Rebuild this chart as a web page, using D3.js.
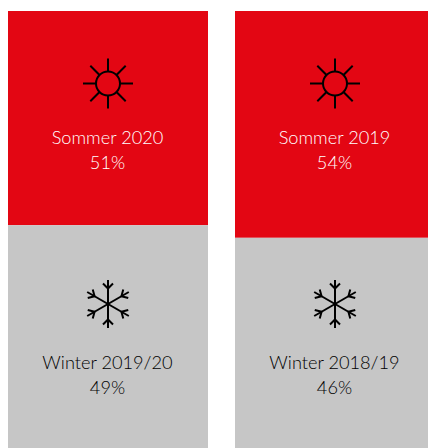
<!DOCTYPE html>
<html>
<head>
<meta charset="utf-8">
<script src="https://cdn.jsdelivr.net/npm/d3@7"></script>
<style>
    html, body { margin: 0; padding: 0; background: #fff; overflow: hidden; }
    text { font-family: Lato, sans-serif; font-weight: 300; font-size: 18.2px; text-anchor: middle; }
</style>
</head>
<body>
<div id="chart"></div>
<script>
const categories = ["2020", "2019"];
const summerLabels = ["Sommer 2020", "Sommer 2019"];
const winterLabels = ["Winter 2019/20", "Winter 2018/19"];
const summerValues = [51, 54];
const winterValues = [49, 46];

const width = 428, height = 448;
const red = "#e30613", grey = "#c6c6c6";

const svg = d3.select("#chart").append("svg")
    .attr("width", width).attr("height", height)
    .style("display", "block");

// second band runs past the window, same as the original crop
const x = d3.scaleBand().domain(categories).range([8, 435]).paddingInner(27 / 227);
const y = d3.scaleLinear().domain([0, 100]).range([11, 431]);

const rows = categories.map((c, i) => ({
    key: c, summer: summerValues[i], winter: winterValues[i],
    summerLabel: summerLabels[i], winterLabel: winterLabels[i]
}));

const cols = svg.selectAll("g.col").data(rows).enter().append("g")
    .attr("class", "col")
    .attr("transform", d => "translate(" + x(d.key) + ",0)");

cols.append("rect")
    .attr("y", y(0))
    .attr("width", x.bandwidth())
    .attr("height", d => y(d.summer) - y(0))
    .attr("fill", red);

// grey part is cut off by the bottom of the picture
cols.append("rect")
    .attr("y", d => y(d.summer))
    .attr("width", x.bandwidth())
    .attr("height", d => height - y(d.summer))
    .attr("fill", grey);

function sun(g) {
    g.append("circle").attr("r", 12).attr("fill", "none");
    d3.range(8).forEach(i => {
        g.append("line").attr("y1", -12).attr("y2", -25)
            .attr("transform", "rotate(" + i * 45 + ")");
    });
}

function flake(g) {
    d3.range(6).forEach(i => {
        const arm = g.append("g").attr("transform", "rotate(" + i * 60 + ")");
        arm.append("line").attr("y1", 0).attr("y2", -24);
        arm.append("path").attr("fill", "none").attr("d", "M-5,-20.5L0,-15.5L5,-20.5");
    });
}

const iconX = x.bandwidth() / 2;

const sunIcon = cols.append("g")
    .attr("transform", "translate(" + iconX + ",83.5)")
    .attr("fill", "none").attr("stroke", "#000").attr("stroke-width", 2);
sunIcon.each(function () { sun(d3.select(this)); });

const flakeIcon = cols.append("g")
    .attr("transform", "translate(" + iconX + ",304)")
    .attr("fill", "none").attr("stroke", "#000").attr("stroke-width", 2);
flakeIcon.each(function () { flake(d3.select(this)); });

// labels
cols.append("text").attr("x", iconX - 0.5).attr("y", 144).attr("fill", "#fff").text(d => d.summerLabel);
cols.append("text").attr("x", iconX - 0.5).attr("y", 169).attr("fill", "#fff").text(d => d.summer + "%");
cols.append("text").attr("x", iconX - 0.5).attr("y", 369).attr("fill", "#000").text(d => d.winterLabel);
cols.append("text").attr("x", iconX - 0.5).attr("y", 394).attr("fill", "#000").text(d => d.winter + "%");
</script>
</body>
</html>
